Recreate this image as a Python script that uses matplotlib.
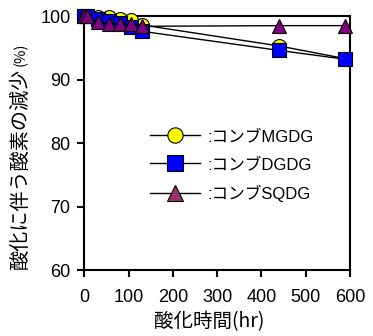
import matplotlib
matplotlib.use("Agg")
import matplotlib.pyplot as plt
from matplotlib.lines import Line2D

plt.rcParams['font.family'] = ['Liberation Sans', 'Noto Sans CJK JP', 'DejaVu Sans']

hours = [0, 6, 31, 56, 81, 106, 131, 440, 590]
mgdg = [100.0, 100.0, 99.8, 99.8, 99.6, 99.4, 98.6, 95.3, 93.3]
dgdg = [100.0, 100.0, 99.5, 99.2, 98.9, 98.3, 97.6, 94.6, 93.2]
sqdg = [100.0, 100.0, 99.0, 98.8, 98.8, 98.7, 98.4, 98.5, 98.5]
labels = [':コンブMGDG', ':コンブDGDG', ':コンブSQDG']
xticks = [0, 100, 200, 300, 400, 500, 600]
yticks = [60, 70, 80, 90, 100]

fig = plt.figure(figsize=(3.73, 3.36), dpi=100)
ax = fig.add_axes([0.2265, 0.1964, 0.938 - 0.2265, 0.952 - 0.1964])

ax.plot(hours, mgdg, '-o', color='black', lw=1, mfc='#FFFF00', mec='black', mew=0.8, ms=10, clip_on=False, zorder=3)
ax.plot(hours, dgdg, '-s', color='black', lw=1, mfc='#0000FF', mec='black', mew=0.8, ms=10, clip_on=False, zorder=4)
ax.plot(hours, sqdg, '-^', color='black', lw=1, mfc='#800080', mec='black', mew=0.8, ms=10, clip_on=False, zorder=5)

ax.set_xlim(0, 600)
ax.set_ylim(60, 100)
ax.set_xticks(xticks)
ax.set_yticks(yticks)
for s in ax.spines.values():
    s.set_linewidth(1.5)
ax.tick_params(axis='both', direction='out', length=5, width=1.5, labelsize=13, pad=5)
ax.tick_params(axis='x', pad=9)
for lab in ax.get_xticklabels() + ax.get_yticklabels():
    lab.set_family(['Liberation Sans'])

handles = [
    Line2D([], [], color='black', lw=1, marker='o', mfc='#FFFF00', mec='black', mew=0.8, ms=11),
    Line2D([], [], color='black', lw=1, marker='s', mfc='#0000FF', mec='black', mew=0.8, ms=11),
    Line2D([], [], color='black', lw=1, marker='^', mfc='#993366', mec='black', mew=0.8, ms=11),
]
leg = ax.legend(handles, labels, loc='upper left', bbox_to_anchor=(150 / 373, 1 - 129 / 336),
                bbox_transform=fig.transFigure, frameon=False, fontsize=12,
                handlelength=3.0, handletextpad=0.45, labelspacing=0.78, borderpad=0, borderaxespad=0)

fig.text(20 / 373, 1 - 168 / 336, '酸化に伴う酸素の減少', rotation=90, ha='center', va='center',
         fontsize=14.5, family=['Noto Sans CJK JP'])
fig.text(21 / 373, 1 - 54 / 336, '(%)', rotation=90, ha='center', va='center',
         fontsize=10.5, family=['Noto Sans CJK JP'])
fig.text(209 / 373, 1 - 322 / 336, '酸化時間(hr)', ha='center', va='center',
         fontsize=14, family=['Noto Sans CJK JP'])

fig.savefig('out.png', dpi=100)
